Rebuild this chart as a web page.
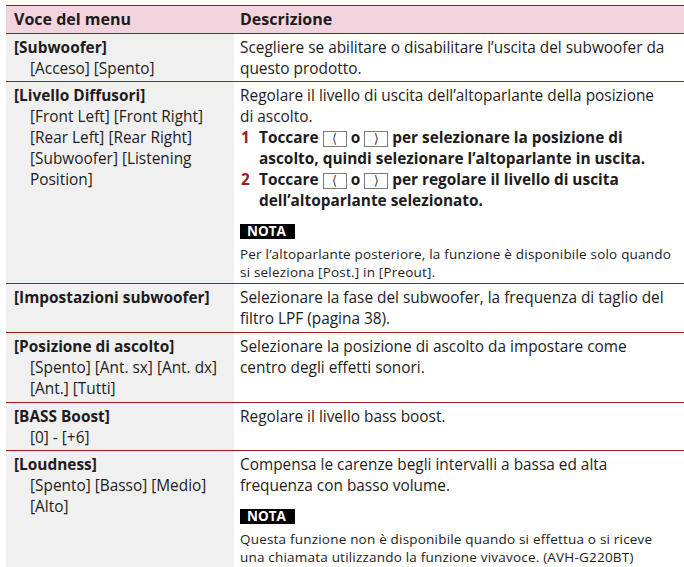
<!DOCTYPE html>
<html lang="it">
<head>
<meta charset="utf-8">
<script src="https://cdn.jsdelivr.net/npm/chart.js@4/dist/chart.umd.min.js"></script>
<style>
  html,body{margin:0;padding:0;background:#fff;}
  body{position:relative;width:684px;height:567px;overflow:hidden;font-family:"Open Sans","Noto Sans",sans-serif;color:#1e1b1c;font-size:15.4px;line-height:21px;}
  .row{position:absolute;left:6px;width:678px;border-top:1.5px solid #9d1c20;box-sizing:border-box;}
  .hdr{background:#f3d3dd;font-weight:bold;font-size:16px;line-height:21px;}
  .cell{position:absolute;top:0;bottom:0;box-sizing:border-box;padding-top:3px;}
  .l{left:0;width:228px;padding-left:8px;}
  .row:not(.hdr) .l{background:#f0f0f0;}
  .r{left:228px;right:0;padding-left:6px;}
  .hdr .cell{padding-top:3px;}
  .opt{padding-left:16px;}
  .steps{margin:0;padding:0;list-style:none;}
  .steps li{position:relative;padding-left:19px;font-weight:bold;line-height:21px;}
  .steps li .n{position:absolute;left:1px;top:0;color:#a3191d;}
  .btn{display:inline-block;position:relative;top:4px;width:24px;height:16px;line-height:14px;border:1px solid #7a7a7a;text-align:center;font-weight:normal;font-family:"DejaVu Sans",sans-serif;font-size:13px;vertical-align:top;box-sizing:border-box;background:#fff;color:#444;}
  .nota{display:inline-block;background:#000;color:#fff;font-weight:bold;font-size:13.5px;line-height:15px;height:15px;padding:0 9px 0 7px;margin-top:13px;vertical-align:top;}
  .note{font-size:13.5px;line-height:18.4px;letter-spacing:0.2px;margin-top:6px;}
</style>
</head>
<body>
<div id="tbl"></div>
<script>
const headers = ["Voce del menu", "Descrizione"];
const menuItems = ["[Subwoofer]", "[Livello Diffusori]", "[Impostazioni subwoofer]", "[Posizione di ascolto]", "[BASS Boost]", "[Loudness]"];
const menuOptions = [
  "[Acceso] [Spento]",
  "[Front Left] [Front Right]<br>[Rear Left] [Rear Right]<br>[Subwoofer] [Listening<br>Position]",
  "",
  "[Spento] [Ant. sx] [Ant. dx]<br>[Ant.] [Tutti]",
  "[0] - [+6]",
  "[Spento] [Basso] [Medio]<br>[Alto]"
];
const descriptions = [
  "Scegliere se abilitare o disabilitare l’uscita del subwoofer da<br>questo prodotto.",
  "Regolare il livello di uscita dell’altoparlante della posizione<br>di ascolto.",
  "Selezionare la fase del subwoofer, la frequenza di taglio del<br>filtro LPF (pagina 38).",
  "Selezionare la posizione di ascolto da impostare come<br>centro degli effetti sonori.",
  "Regolare il livello bass boost.",
  "Compensa le carenze begli intervalli a bassa ed alta<br>frequenza con basso volume."
];
const BL = '<span class="btn">&#x27E8;</span>', BR = '<span class="btn">&#x27E9;</span>';
const steps = [
  [],
  ["Toccare " + BL + " o " + BR + " per selezionare la posizione di<br>ascolto, quindi selezionare l’altoparlante in uscita.",
   "Toccare " + BL + " o " + BR + " per regolare il livello di uscita<br>dell’altoparlante selezionato."],
  [], [], [], []
];
const notes = [
  "",
  "Per l’altoparlante posteriore, la funzione è disponibile solo quando<br>si seleziona [Post.] in [Preout].",
  "", "", "",
  "Questa funzione non è disponibile quando si effettua o si riceve<br>una chiamata utilizzando la funzione vivavoce. (AVH-G220BT)"
];

// layout (pixel positions of the horizontal rules)
const headerTop = 5;
const rowTops = [33, 81, 283, 332, 402, 450];
const pageBottom = 567;

const tbl = document.getElementById('tbl');
function addRow(top, height, cls, leftHtml, rightHtml) {
  const d = document.createElement('div');
  d.className = 'row' + (cls ? ' ' + cls : '');
  d.style.top = top + 'px';
  d.style.height = height + 'px';
  d.innerHTML = '<div class="cell l">' + leftHtml + '</div><div class="cell r">' + rightHtml + '</div>';
  tbl.appendChild(d);
}
addRow(headerTop, rowTops[0] - headerTop, 'hdr', headers[0], headers[1]);
menuItems.forEach((item, i) => {
  let left = '<b>' + item + '</b>';
  if (menuOptions[i]) left += '<div class="opt">' + menuOptions[i] + '</div>';
  let right = '<div>' + descriptions[i] + '</div>';
  if (steps[i].length) {
    right += '<ol class="steps">' + steps[i].map((s, k) => '<li><span class="n">' + (k + 1) + '</span>' + s + '</li>').join('') + '</ol>';
  }
  if (notes[i]) right += '<div class="nota">NOTA</div><div class="note">' + notes[i] + '</div>';
  const top = rowTops[i];
  const bottom = i + 1 < rowTops.length ? rowTops[i + 1] : pageBottom;
  addRow(top, bottom - top, '', left, right);
});
</script>
</body>
</html>
